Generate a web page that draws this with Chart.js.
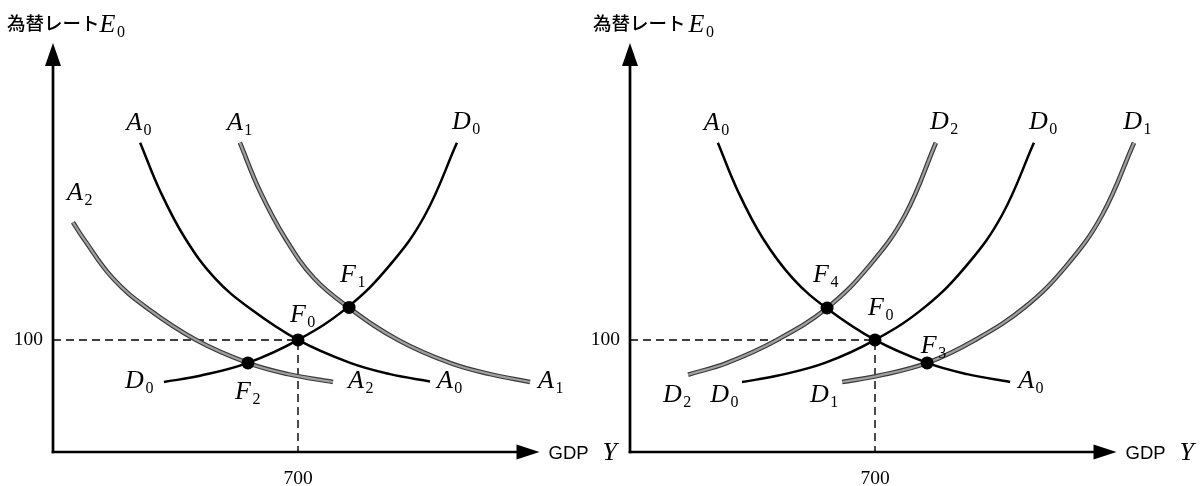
<!DOCTYPE html>
<html>
<head>
<meta charset="utf-8">
<script src="https://cdn.jsdelivr.net/npm/chart.js@4.4.1/dist/chart.umd.min.js"></script>
<style>
  html, body { margin: 0; padding: 0; background: #fff; }
  #wrap { position: relative; width: 1203px; height: 486px; overflow: hidden; }
  canvas { position: absolute; top: 0; }
</style>
</head>
<body>
<div id="wrap">
  <canvas id="left" width="640" height="486" style="left:0px"></canvas>
  <canvas id="right" width="626" height="486" style="left:577px"></canvas>
</div>
<script>
// ---------- data (GDP Y on x, exchange rate E on y) ----------
const xTicks = [700];
const yTicks = [100];
const axisEndX = 1390;   // where the GDP arrow ends
const scaleMaxX = 1500;
const axisMaxY = 365;

// Left panel
const leftA0X = [249, 306, 377, 463, 563, 700, 849, 963, 1077];
const leftA0Y = [276, 233, 191, 155, 128, 100, 79.5, 69.5, 63];
const leftA1X = [534, 591, 663, 746, 849, 986, 1134, 1249, 1363];
const leftA1Y = [276, 233, 191, 155, 128, 100, 79.5, 69.5, 62.5];
const leftA2X = [57, 86, 171, 271, 409, 557, 671, 800];
const leftA2Y = [205, 191, 155, 128, 100, 79.5, 69.5, 62.5];
const leftD0X = [317, 420, 557, 700, 843, 963, 1063, 1154];
const leftD0Y = [62.5, 68, 79.5, 100, 129.5, 167, 211.5, 276];
const leftPointsX = [700, 846, 557];   // F0, F1, F2
const leftPointsY = [100, 129, 79.5];

// Right panel
const rightA0X = [251, 308, 379, 465, 563, 700, 849, 963, 1086];
const rightA0Y = [276, 233, 191, 155, 128, 100, 79.5, 69.5, 62.5];
const rightD2X = [166, 277, 420, 563, 686, 786, 874];
const rightD2Y = [69, 79.5, 100, 128.5, 167, 211.5, 276];
const rightD0X = [320, 420, 557, 700, 843, 963, 1063, 1154];
const rightD0Y = [62.5, 68, 79.5, 100, 129.5, 167, 211.5, 276];
const rightD1X = [606, 709, 849, 986, 1129, 1249, 1349, 1440];
const rightD1Y = [62.5, 68, 79.5, 100, 129.5, 167, 211.5, 276];
const rightPointsX = [700, 563, 849];  // F0, F4, F3
const rightPointsY = [100, 128.5, 79.5];

// curve / point labels (main letter, subscript, anchor in data units)
const leftLabels = [
  ['A','0',209,287.5], ['A','1',497,287.5], ['D','0',1140,288], ['A','2',40,225],
  ['F','1',820,152], ['F','0',677,116], ['D','0',206,57], ['F','2',520,47],
  ['A','2',843,57], ['A','0',1097,57], ['A','1',1386,57]
];
const rightLabels = [
  ['A','0',211,287.5], ['D','2',857,288], ['D','0',1140,288], ['D','1',1409,288],
  ['F','4',523,152], ['F','0',680,122], ['F','3',831,88],
  ['D','2',94,45], ['D','0',229,45], ['D','1',514,45], ['A','0',1109,57]
];

// ---------- helpers ----------
const zip = (xs, ys) => xs.map((x, i) => ({ x: x, y: ys[i] }));

function curve(data, isGrey) {
  const base = {
    data: data, showLine: true, pointRadius: 0, pointHoverRadius: 0,
    tension: 0.4, fill: false, clip: false
  };
  if (!isGrey) return [Object.assign({}, base, { borderColor: '#000', borderWidth: 2.5, order: 2 })];
  return [
    Object.assign({}, base, { borderColor: '#3a3a3a', borderWidth: 4.6, order: 4 }),
    Object.assign({}, base, { borderColor: '#a0a0a0', borderWidth: 2.2, order: 3 })
  ];
}

function mathLabel(ctx, main, sub, px, py) {
  ctx.fillStyle = '#000';
  ctx.textAlign = 'left';
  ctx.textBaseline = 'alphabetic';
  ctx.font = 'italic 26px "Liberation Serif"';
  ctx.fillText(main, px, py);
  const w = ctx.measureText(main).width;
  ctx.font = '16px "Liberation Serif"';
  ctx.fillText(sub, px + w + 1.5, py + 5);
}

function decoPlugin(labels, titleX, titleGap) {
  return {
    id: 'deco',
    beforeDatasetsDraw(chart) {
      const ctx = chart.ctx, a = chart.chartArea;
      const xs = chart.scales.x;
      const endX = xs.getPixelForValue(axisEndX);
      ctx.save();
      ctx.strokeStyle = '#000';
      ctx.fillStyle = '#000';
      ctx.lineWidth = 2.7;
      // y axis
      ctx.beginPath();
      ctx.moveTo(a.left, a.bottom + 1.3);
      ctx.lineTo(a.left, a.top + 15);
      ctx.stroke();
      ctx.beginPath();
      ctx.moveTo(a.left, a.top);
      ctx.lineTo(a.left - 8, a.top + 23);
      ctx.lineTo(a.left + 8, a.top + 23);
      ctx.closePath();
      ctx.fill();
      // x axis
      ctx.beginPath();
      ctx.moveTo(a.left - 1.3, a.bottom);
      ctx.lineTo(endX - 15, a.bottom);
      ctx.stroke();
      ctx.beginPath();
      ctx.moveTo(endX, a.bottom);
      ctx.lineTo(endX - 23, a.bottom - 7.5);
      ctx.lineTo(endX - 23, a.bottom + 7.5);
      ctx.closePath();
      ctx.fill();
      ctx.restore();
    },
    afterDraw(chart) {
      const ctx = chart.ctx, a = chart.chartArea;
      const xs = chart.scales.x, ys = chart.scales.y;
      const endX = xs.getPixelForValue(axisEndX);
      ctx.save();
      ctx.fillStyle = '#000';
      // tick labels
      ctx.font = '19.5px "Liberation Serif"';
      ctx.textBaseline = 'middle';
      ctx.textAlign = 'right';
      yTicks.forEach(v => ctx.fillText(String(v), a.left - 10, ys.getPixelForValue(v)));
      ctx.textAlign = 'center';
      xTicks.forEach(v => ctx.fillText(String(v), xs.getPixelForValue(v), a.bottom + 27));
      // x axis title
      ctx.textAlign = 'left';
      ctx.font = '18.5px "Liberation Sans"';
      ctx.fillText('GDP', endX + 9, a.bottom + 2);
      const gw = ctx.measureText('GDP').width;
      ctx.font = 'italic 26px "Liberation Serif"';
      ctx.textBaseline = 'alphabetic';
      ctx.fillText('Y', endX + 9 + gw + 14, a.bottom + 8);
      // y axis title
      ctx.font = '500 18.5px "Noto Sans CJK JP"';
      ctx.textBaseline = 'middle';
      ctx.fillText('為替レート', titleX, 23);
      const tw = ctx.measureText('為替レート').width;
      mathLabel(ctx, 'E', '0', titleX + tw + titleGap, 32);
      // curve labels
      labels.forEach(l => mathLabel(ctx, l[0], l[1], xs.getPixelForValue(l[2]), ys.getPixelForValue(l[3])));
      ctx.restore();
    }
  };
}

function makeChart(id, curves, px, py, labels, pad, titleX, titleGap) {
  let datasets = [
    { data: zip(px, py), pointRadius: 6.5, pointBackgroundColor: '#000', pointBorderWidth: 0,
      showLine: false, order: 0, clip: false },
    { data: [{ x: 0, y: yTicks[0] }, { x: xTicks[0], y: yTicks[0] }, { x: xTicks[0], y: 0 }],
      showLine: true, pointRadius: 0, borderColor: '#000', borderWidth: 1.4, borderDash: [8, 5],
      tension: 0, order: 6, clip: false }
  ];
  curves.forEach(c => { datasets = datasets.concat(c); });
  return new Chart(document.getElementById(id), {
    type: 'scatter',
    data: { datasets: datasets },
    options: {
      responsive: false, animation: false, devicePixelRatio: 1, events: [],
      layout: { padding: pad },
      plugins: { legend: { display: false }, tooltip: { enabled: false } },
      scales: {
        x: { type: 'linear', min: 0, max: scaleMaxX, display: false },
        y: { type: 'linear', min: 0, max: axisMaxY, display: false }
      }
    },
    plugins: [decoPlugin(labels, titleX, titleGap)]
  });
}

// chart area width = 1500 * 0.35 = 525 px
makeChart('left', [
  curve(zip(leftA0X, leftA0Y), false),
  curve(zip(leftD0X, leftD0Y), false),
  curve(zip(leftA1X, leftA1Y), true),
  curve(zip(leftA2X, leftA2Y), true)
], leftPointsX, leftPointsY, leftLabels,
  { left: 53, top: 43, right: 62, bottom: 34 }, 7, 0);

makeChart('right', [
  curve(zip(rightA0X, rightA0Y), false),
  curve(zip(rightD0X, rightD0Y), false),
  curve(zip(rightD2X, rightD2Y), true),
  curve(zip(rightD1X, rightD1Y), true)
], rightPointsX, rightPointsY, rightLabels,
  { left: 53, top: 43, right: 48, bottom: 34 }, 16, 3);
</script>
</body>
</html>
